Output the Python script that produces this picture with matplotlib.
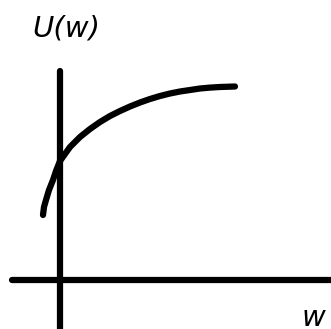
import numpy as np
import matplotlib
matplotlib.use("Agg")
import matplotlib.pyplot as plt

# curve (origin at the axes crossing)
w_vals = [-17, -16, -14, -11, -7, -4, 0, 10, 20, 30, 40, 50, 60, 70, 80,
          90, 100, 110, 120, 130, 140, 150, 160, 175]
u_vals = [65, 73, 80, 90, 100, 109, 119, 133, 143, 151, 158, 164, 169, 173.5,
          177.5, 181, 184, 186.5, 188.5, 190, 191.5, 192.4, 193, 193.5]

y_label = "U(w)"
x_label = "w"

fig = plt.figure(figsize=(3.31, 3.29), dpi=100)
ax = fig.add_axes([0, 0, 1, 1])
ax.set_xlim(-60, 271)
ax.set_ylim(-49, 280)
ax.axis("off")

lw = 4.5
# axes drawn as thick strokes
ax.plot([0, 0], [-80, 209], color="black", lw=lw, solid_capstyle="round")
ax.plot([-48, 300], [0, 0], color="black", lw=lw, solid_capstyle="round")

ax.plot(w_vals, u_vals, color="black", lw=lw,
        solid_capstyle="round", solid_joinstyle="round")

ax.text(-28, 243, y_label, fontsize=21, style="italic",
        ha="left", va="baseline")
ax.text(242, -46, x_label, fontsize=21, style="italic",
        ha="left", va="baseline")

fig.savefig("out.png", dpi=100)
